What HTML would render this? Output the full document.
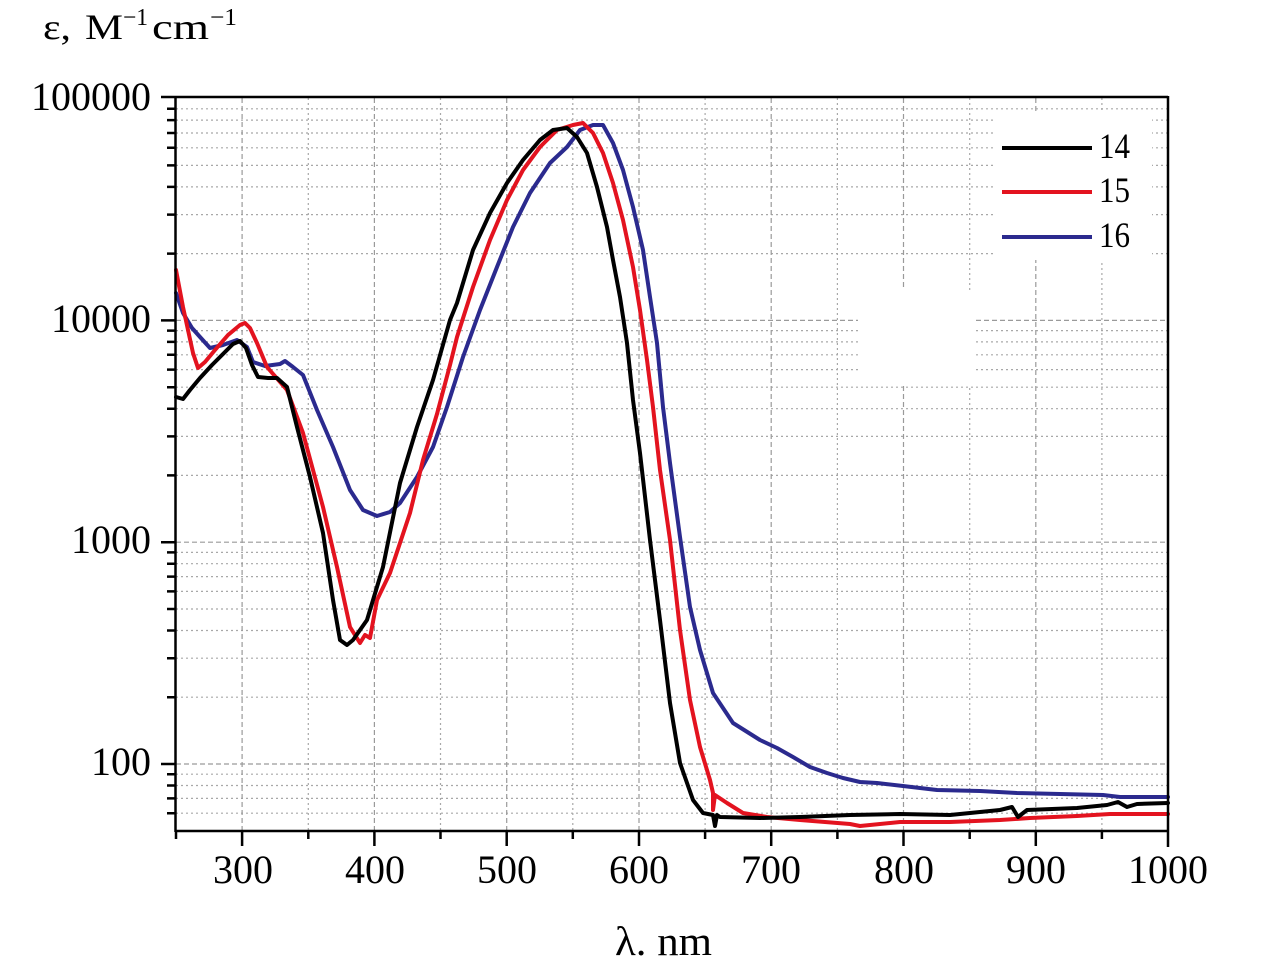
<!DOCTYPE html>
<html><head><meta charset="utf-8"><style>
html,body{margin:0;padding:0;background:#fff;}
svg{display:block;}
text{font-family:"Liberation Serif","DejaVu Serif",serif;fill:#000;}
</style></head><body>
<svg width="1283" height="960" viewBox="0 0 1283 960" xmlns="http://www.w3.org/2000/svg">
<rect width="1283" height="960" fill="#fff"/>
<!-- minor horizontal grid -->
<g stroke="#a8a8a8" stroke-width="1.2" stroke-dasharray="2,3" fill="none">
<path d="M176 813.2H1167M176 798.4H1167M176 785.5H1167M176 774.2H1167
M176 697.2H1167M176 658.2H1167M176 630.5H1167M176 609H1167M176 591.4H1167M176 576.6H1167M176 563.7H1167M176 552.4H1167
M176 475.4H1167M176 436.4H1167M176 408.7H1167M176 387.2H1167M176 369.6H1167M176 354.8H1167M176 341.9H1167M176 330.6H1167
M176 253.6H1167M176 214.6H1167M176 186.9H1167M176 165.4H1167M176 147.8H1167M176 133H1167M176 120.1H1167M176 108.8H1167"/>
<path d="M308.3 98V830M440.5 98V830M572.8 98V830M705.1 98V830M837.4 98V830M969.7 98V830M1101.9 98V830"/>
</g>
<!-- major grid -->
<g stroke="#9a9a9a" stroke-width="1.2" stroke-dasharray="5,3" fill="none">
<path d="M176 764H1167M176 542.2H1167M176 320.4H1167"/>
<path d="M242.1 98V830M374.4 98V830M506.7 98V830M639 98V830M771.2 98V830M903.5 98V830M1035.8 98V830"/>
</g>
<!-- blank patches -->
<rect x="858" y="290" width="117" height="95" fill="#fff"/>
<rect x="995" y="112" width="157" height="148" fill="#fff"/>
<!-- curves -->
<g fill="none" stroke-width="4" stroke-linejoin="round" stroke-linecap="round">
<polyline stroke="#2b2a8e" points="176,293 183,313 192,328 200,337 210,348 223,345 237,340 247,347 253,362 265,366 280,364 285,361 293,367 303,375 317,410 333,447 350,490 363,510 377,516 390,512 400,503 417,477 433,447 447,407 463,357 480,310 497,267 513,227 530,193 550,163 567,147 580,130 593,125 603,125 613,143 623,170 633,207 643,250 650,297 657,343 663,407 670,463 680,537 690,607 700,650 713,693 733,723 760,740 777,748 793,757 810,767 827,773 843,778 860,782 877,783 903,786 937,790 980,791 1017,793 1103,795 1120,797 1168,797"/>
<polyline stroke="#e3131f" points="176,270 183,307 193,353 198,368 205,362 215,350 228,335 240,325 245,323 250,328 257,343 267,367 287,390 303,433 323,507 337,567 350,627 360,643 365,635 370,638 377,600 390,573 410,513 423,460 437,414 450,365 457,337 473,287 490,240 507,200 523,170 540,147 557,130 573,125 583,123 593,133 603,153 613,183 623,220 633,267 640,310 647,360 653,407 660,470 670,540 680,630 690,700 700,747 710,780 713,793 713,810 715,795 727,803 743,813 767,817 800,820 850,824 860,826 900,822 950,822 1000,820 1030,818 1077,816 1110,814 1168,814"/>
<polyline stroke="#000" points="176,397 183,399 190,390 200,378 212,365 225,352 233,344 240,341 246,348 252,365 258,377 268,378 277,378 287,387 297,427 310,477 323,533 333,600 340,640 347,645 353,640 367,620 383,567 400,483 417,427 433,380 450,320 457,303 473,250 490,213 507,183 523,160 540,140 553,130 567,128 577,137 587,153 597,187 607,227 613,260 620,297 627,343 633,400 640,453 650,540 660,620 670,703 680,763 693,800 703,813 713,815 715,826 717,815 720,817 760,818 800,817 850,815 900,814 950,815 1000,810 1012,807 1018,817 1027,810 1077,808 1107,805 1118,802 1127,807 1137,804 1168,803"/>
</g>
<!-- axes frame -->
<g stroke="#000" fill="none">
<path d="M161 97H1168" stroke-width="2.5"/>
<path d="M175.5 96V832" stroke-width="2.5"/>
<path d="M1168 96V847" stroke-width="2.5"/>
<path d="M175 831H1169" stroke-width="2.5"/>
<path d="M161 764H175M161 542.2H175M161 320.4H175" stroke-width="2.5"/>
<path d="M167 813.2H175M167 798.4H175M167 785.5H175M167 774.2H175
M167 697.2H175M167 658.2H175M167 630.5H175M167 609H175M167 591.4H175M167 576.6H175M167 563.7H175M167 552.4H175
M167 475.4H175M167 436.4H175M167 408.7H175M167 387.2H175M167 369.6H175M167 354.8H175M167 341.9H175M167 330.6H175
M167 253.6H175M167 214.6H175M167 186.9H175M167 165.4H175M167 147.8H175M167 133H175M167 120.1H175M167 108.8H175" stroke-width="2.5"/>
<path d="M242.1 831V846M374.4 831V846M506.7 831V846M639 831V846M771.2 831V846M903.5 831V846M1035.8 831V846" stroke-width="2.5"/>
<path d="M176 831V839M308.3 831V839M440.5 831V839M572.8 831V839M705.1 831V839M837.4 831V839M969.7 831V839M1101.9 831V839" stroke-width="2.5"/>
</g>
<!-- legend -->
<g stroke-width="4" stroke-linecap="butt">
<line x1="1002" y1="148" x2="1092" y2="148" stroke="#000"/>
<line x1="1002" y1="192" x2="1092" y2="192" stroke="#e3131f"/>
<line x1="1002" y1="237" x2="1092" y2="237" stroke="#2b2a8e"/>
</g>
<g font-size="36">
<text x="1099" y="158" textLength="31" lengthAdjust="spacingAndGlyphs">14</text>
<text x="1099" y="202" textLength="31" lengthAdjust="spacingAndGlyphs">15</text>
<text x="1099" y="247" textLength="31" lengthAdjust="spacingAndGlyphs">16</text>
</g>
<!-- y tick labels -->
<g font-size="40" text-anchor="end">
<text x="151" y="110">100000</text>
<text x="151" y="332">10000</text>
<text x="151" y="553">1000</text>
<text x="151" y="775">100</text>
</g>
<!-- x tick labels -->
<g font-size="40" text-anchor="middle">
<text x="243" y="883">300</text>
<text x="375" y="883">400</text>
<text x="507" y="883">500</text>
<text x="639" y="883">600</text>
<text x="771" y="883">700</text>
<text x="904" y="883">800</text>
<text x="1036" y="883">900</text>
<text x="1168" y="883">1000</text>
</g>
<!-- axis titles -->
<text x="43" y="39" font-size="36" textLength="28" lengthAdjust="spacingAndGlyphs">ε,</text>
<text x="85" y="39" font-size="36" textLength="38" lengthAdjust="spacingAndGlyphs">M</text>
<text x="123" y="25" font-size="24" textLength="25" lengthAdjust="spacingAndGlyphs">−1</text>
<text x="152" y="39" font-size="36" textLength="57" lengthAdjust="spacingAndGlyphs">cm</text>
<text x="210" y="25" font-size="24" textLength="27" lengthAdjust="spacingAndGlyphs">−1</text>
<text x="615" y="955" font-size="41" textLength="97" lengthAdjust="spacingAndGlyphs">λ. nm</text>
</svg>
</body></html>
